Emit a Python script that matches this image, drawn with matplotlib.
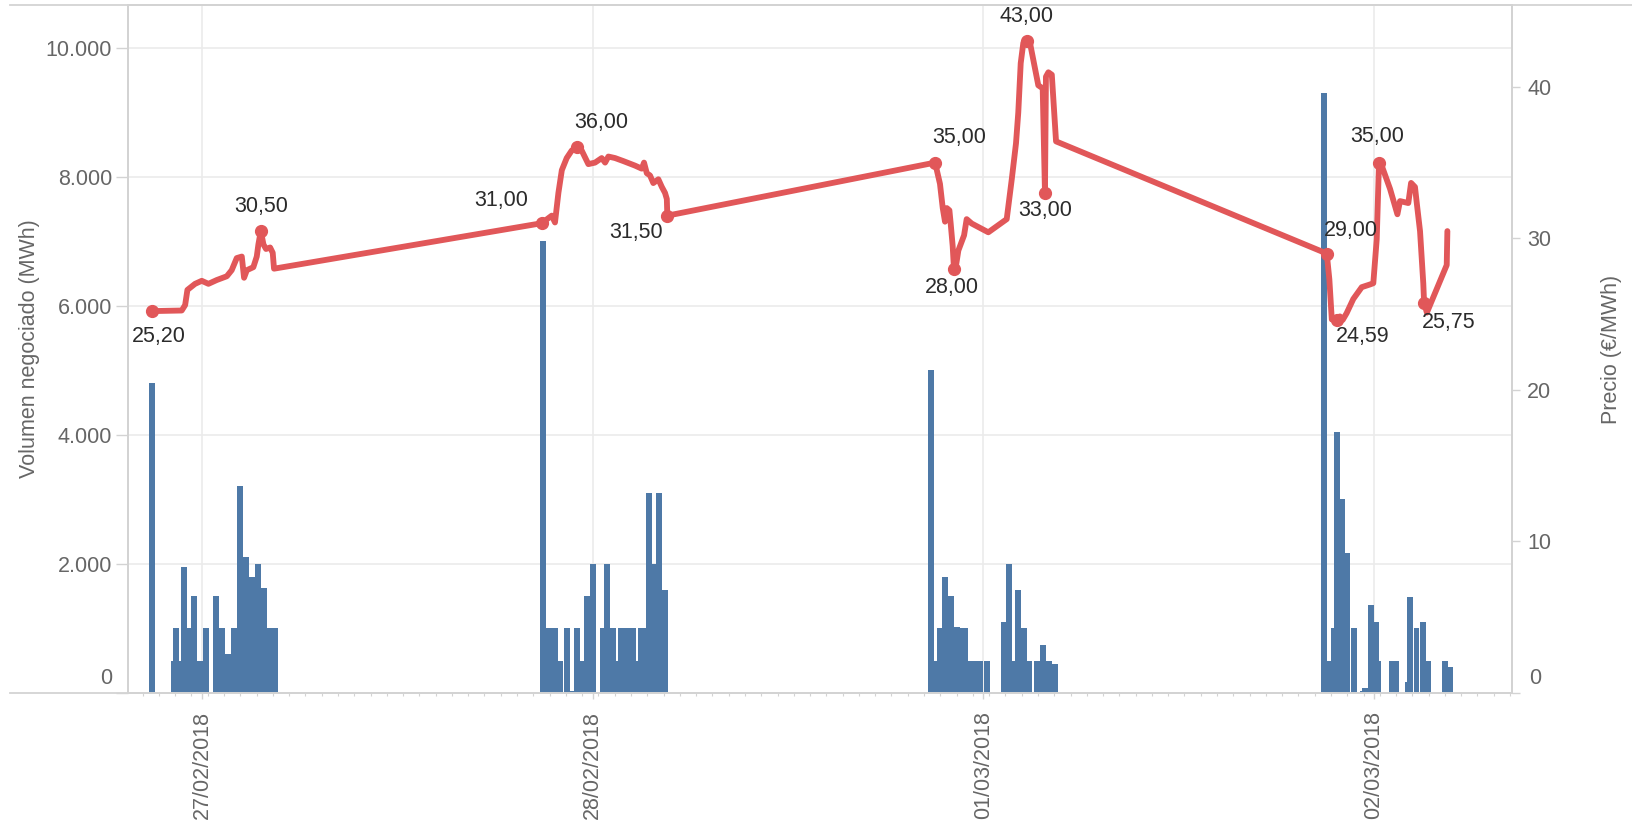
import numpy as np
import matplotlib
matplotlib.use("Agg")
import matplotlib.pyplot as plt
from matplotlib.ticker import FixedLocator, MultipleLocator
from matplotlib.lines import Line2D

plt.rcParams['font.family'] = ['Liberation Sans', 'DejaVu Sans']

# ---------------- data (hours from 27/02/2018 00:00) ----------------
date_ticks_h = [0, 24, 48, 72]
date_labels = ['27/02/2018', '28/02/2018', '01/03/2018', '02/03/2018']

vol_hours = [
    -3.26, -1.90, -1.76, -1.39, -1.29, -0.94, -0.68, -0.31, 0.08, 0.68, 1.02,
    1.39, 1.64, 1.80, 2.15, 2.52, 2.66, 2.91, 3.28, 3.60, 3.97, 4.28,
    20.74, 21.11, 21.48, 21.83, 22.24, 22.61, 22.85, 23.22, 23.47, 23.84, 24.43,
    24.70, 25.06, 25.29, 25.56, 25.92, 26.29, 26.66, 26.81, 27.05, 27.28, 27.64,
    27.91, 28.28,
    44.60, 44.97, 45.13, 45.48, 45.85, 46.22, 46.36, 46.71, 47.08, 47.43, 47.59,
    48.06, 49.06, 49.41, 49.78, 49.92, 50.29, 50.64, 51.13, 51.50, 51.87, 52.10,
    52.24,
    68.76, 69.11, 69.38, 69.52, 69.85, 70.01, 70.16, 70.59, 71.12, 71.26, 71.61,
    71.94, 72.08, 72.92, 73.17, 73.92, 74.05, 74.42, 74.81, 75.15, 76.16, 76.50,
]
vol_mwh = [
    4800, 500, 1000, 500, 1950, 1000, 1500, 500, 1000, 1500, 1000,
    600, 500, 1000, 3200, 2100, 1000, 1800, 2000, 1630, 1000, 1000,
    7000, 1000, 1000, 500, 1000, 30, 1000, 500, 1500, 2000, 1000,
    2000, 1000, 500, 1000, 1000, 1000, 500, 1000, 1000, 3100, 2000,
    3100, 1600,
    5000, 500, 1000, 1800, 1500, 1030, 1000, 1000, 500, 500, 500,
    500, 1100, 2000, 500, 1600, 1000, 500, 500, 750, 500, 50,
    450,
    9300, 500, 1000, 4050, 3000, 50, 2170, 1000, 30, 80, 1360,
    1100, 500, 500, 500, 170, 1480, 1000, 1100, 500, 500, 400,
]

price_hours = [
    -3.09, -1.25, -1.04, -0.90, -0.43, -0.02, 0.39, 0.90, 1.52, 1.82, 2.13, 2.44,
    2.58, 2.75, 3.15, 3.36, 3.46, 3.61, 3.77, 3.93, 4.18, 4.34, 4.42,
    20.86, 21.17, 21.48, 21.68, 21.89, 22.10, 22.40, 22.71, 23.02, 23.32, 23.73,
    24.14, 24.55, 24.76, 24.96, 25.37, 25.88, 26.60, 27.01, 27.15, 27.32, 27.52,
    27.72, 28.03, 28.24, 28.44, 28.55, 28.58,
    45.03, 45.33, 45.50, 45.64, 45.75, 45.91, 45.99, 46.11, 46.19, 46.31, 46.46,
    46.67, 46.81, 46.97, 47.28, 48.30, 49.43, 49.74, 50.00, 50.14, 50.29, 50.45,
    50.66, 50.86, 51.37, 51.64, 51.78, 51.84, 51.99, 52.20, 52.46,
    69.09, 69.25, 69.40, 69.70, 69.90, 70.07, 70.31, 70.72, 71.24, 71.75, 71.95,
    72.16, 72.30, 72.50, 72.98, 73.43, 73.59, 74.10, 74.27, 74.51, 74.62, 74.82,
    75.02, 75.07, 75.24, 76.46, 76.50,
]
price_eur = [
    25.20, 25.24, 25.6, 26.6, 27.0, 27.2, 27.0, 27.25, 27.5, 27.9, 28.7, 28.8,
    27.4, 27.9, 28.1, 28.8, 29.6, 30.50, 29.6, 29.3, 29.4, 29.05, 28.0,
    31.00, 31.25, 31.5, 31.05, 33.0, 34.5, 35.3, 35.8, 36.00, 35.8, 34.9,
    35.0, 35.3, 35.0, 35.4, 35.3, 35.1, 34.8, 34.6, 35.0, 34.3, 34.15,
    33.65, 33.9, 33.4, 33.0, 32.6, 31.50,
    35.00, 33.6, 32.0, 31.1, 32.0, 31.85, 30.96, 29.5, 28.00, 28.17, 29.2,
    29.8, 30.2, 31.27, 30.98, 30.4, 31.27, 33.9, 36.27, 38.3, 41.56, 42.9,
    43.00, 42.9, 40.1, 39.9, 33.00, 40.67, 40.96, 40.8, 36.4,
    29.00, 27.3, 24.65, 24.59, 24.85, 24.62, 25.06, 26.0, 26.78, 26.96, 27.04,
    29.95, 35.00, 34.7, 33.26, 31.59, 32.46, 32.33, 33.66, 33.39, 32.33, 30.48,
    27.04, 25.75, 25.1, 28.24, 30.48,
]

labelled_hours = [-3.09, 3.61, 20.86, 23.02, 28.58, 45.03, 46.19, 50.66, 51.78,
                  69.09, 69.70, 72.30, 75.07]

vol_ticks = [0, 2000, 4000, 6000, 8000, 10000]
price_ticks = [0, 10, 20, 30, 40]

# ---------------- layout / style ----------------
W, H, DPI = 1633, 826, 100
BLUE = '#4e79a7'
RED = '#e15759'
GRID = '#ebebeb'
AXC = '#d3d3d3'
TXT = '#666666'
FS = 15.5

# label offsets in pixels (dx right, dy down) for each labelled point
label_offsets = [(7, 25), (0, -24), (-40, -23), (24, -25), (-31, 17), (24, -25),
                 (-2, 19), (0, -25), (0, 18), (24, -23), (26, 16), (-2, -26),
                 (25, 20)]

fig = plt.figure(figsize=(W / DPI, H / DPI), dpi=DPI)
L, R, B, T = 128 / W, 1512 / W, 1 - 693 / H, 1 - 5 / H
ax = fig.add_axes([L, B, R - L, T - B])
ax2 = ax.twinx()

ax.bar(vol_hours, vol_mwh, width=0.36, align='edge', color=BLUE,
       linewidth=0, zorder=2)

ax.set_xlim(-4.55, 80.47)
ax.set_ylim(0, 10660)
ax2.set_ylim(0, 45.4)

ax2.plot(price_hours, price_eur, color=RED, lw=4.2, solid_joinstyle='round',
         solid_capstyle='round', zorder=3)

ph = np.array(price_hours)
pe = np.array(price_eur)
for h, (dx, dy) in zip(labelled_hours, label_offsets):
    i = int(np.argmin(np.abs(ph - h)))
    ax2.plot(ph[i], pe[i], 'o', ms=8.5, color=RED, zorder=4)
    ax2.annotate(f"{pe[i]:.2f}".replace('.', ','), (ph[i], pe[i]),
                 xytext=(dx * 0.72, -dy * 0.72), textcoords='offset points',
                 ha='center', va='center', fontsize=FS, color='#2b2b2b', zorder=5)

# grid
ax.set_axisbelow(True)
ax.yaxis.set_major_locator(FixedLocator(vol_ticks))
ax.grid(True, axis='y', color=GRID, lw=1.2)
ax.xaxis.set_major_locator(FixedLocator(date_ticks_h))
ax.grid(True, axis='x', which='major', color=GRID, lw=1.2)

# x ticks
ax.set_xticklabels(date_labels, rotation=90, ha='center', va='top')
ax.xaxis.set_minor_locator(MultipleLocator(1, offset=0.35))
ax.tick_params(axis='x', which='major', length=4.3, width=1, color=AXC,
               pad=8.6, labelsize=FS, labelcolor=TXT)
ax.tick_params(axis='x', which='minor', length=2.2, width=0.8, color=AXC)

# left y ticks
ax.set_yticklabels(['' if v == 0 else f"{v:,}".replace(',', '.') for v in vol_ticks])
ax.tick_params(axis='y', length=8.6, width=1, color=AXC, pad=2.9,
               labelsize=FS, labelcolor=TXT)
ax.annotate('0', xy=(0, 0), xycoords=('axes fraction', 'data'),
            xytext=(-16 * 0.72, 15 * 0.72), textcoords='offset points',
            ha='right', va='center', fontsize=FS, color=TXT)

# right y ticks
ax2.yaxis.set_major_locator(FixedLocator(price_ticks))
ax2.set_yticklabels(['' if v == 0 else str(v) for v in price_ticks])
ax2.tick_params(axis='y', length=5.5, width=1, color=AXC, pad=5.5,
                labelsize=FS, labelcolor=TXT)
ax2.annotate('0', xy=(1, 0), xycoords=('axes fraction', 'data'),
             xytext=(17 * 0.72, 15 * 0.72), textcoords='offset points',
             ha='left', va='center', fontsize=FS, color=TXT)

# axis labels
ax.set_ylabel('Volumen negociado (MWh)', fontsize=FS, color=TXT)
ax.yaxis.set_label_coords((30 - 128) / 1384, 0.5)
ax.yaxis.label.set_va('center')
ax2.set_ylabel('Precio (€/MWh)', fontsize=FS, color=TXT, rotation=90)
ax2.yaxis.set_label_coords((1612 - 128) / 1384, 0.5)
ax2.yaxis.label.set_va('center')

# spines
for a in (ax, ax2):
    for s in a.spines.values():
        s.set_color(AXC)
        s.set_linewidth(1.3)

# extensions of the frame lines
fig.add_artist(Line2D([10 / W, 1.0], [T, T], transform=fig.transFigure,
                      color=AXC, lw=1.3))
fig.add_artist(Line2D([10 / W, L], [B, B], transform=fig.transFigure,
                      color=AXC, lw=1.3))

fig.savefig('out.png', dpi=DPI)
